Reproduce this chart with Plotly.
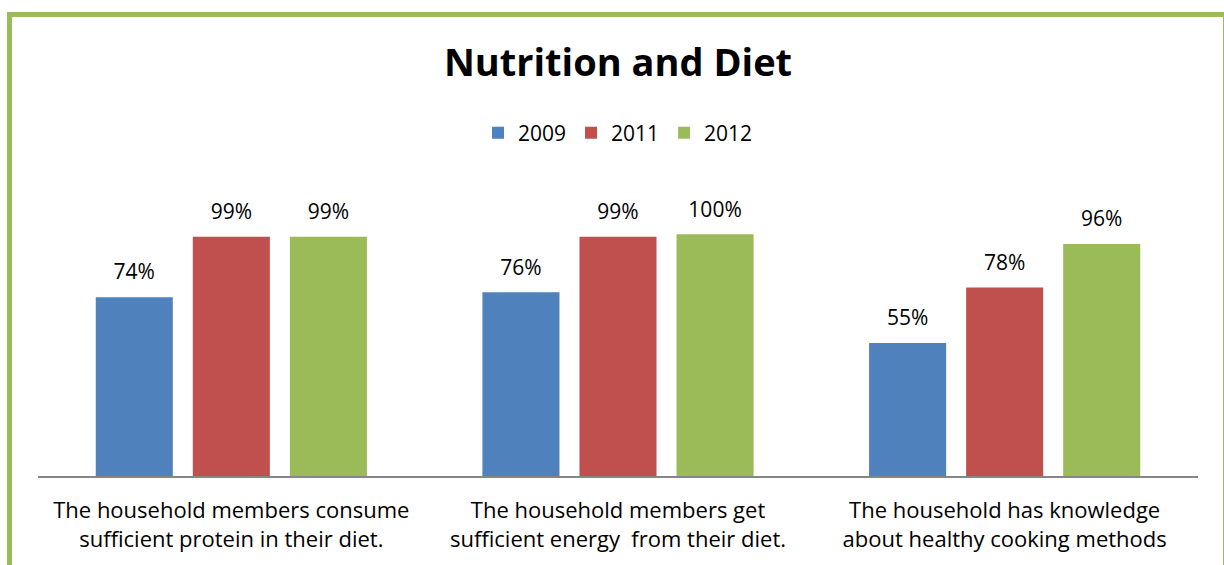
import plotly.graph_objects as go

categories = [
    "The household members consume<br>sufficient protein in their diet.",
    "The household members get<br>sufficient energy  from their diet.",
    "The household has knowledge<br>about healthy cooking methods",
]
years = ["2009", "2011", "2012"]
values_2009 = [0.74, 0.76, 0.55]
values_2011 = [0.99, 0.99, 0.78]
values_2012 = [0.99, 1.00, 0.96]
colors = ["#4F81BD", "#C0504D", "#9BBB59"]

FONT = "Open Sans"
fig = go.Figure()
for name, vals, col in zip(years, [values_2009, values_2011, values_2012], colors):
    fig.add_trace(go.Bar(
        x=categories, y=vals, name=name,
        marker=dict(color=col, line=dict(width=0)),
        texttemplate="<span style='font-size:21px'>%{y:.0%}</span><br><span style='color:rgba(0,0,0,0)'>.</span>",
        textposition="outside",
        textfont=dict(family=FONT, size=9, color="#000000"),
        cliponaxis=False,
    ))

W, H = 1224, 565
L, R, T, B = 38, 26, 186, 89
pw, ph = W - L - R, H - T - B

def px_x(px):
    return (px - L) / pw

def px_y(py):
    return (H - B - py) / ph

fig.update_layout(
    width=W, height=H,
    margin=dict(l=L, r=R, t=T, b=B, autoexpand=False),
    paper_bgcolor="white", plot_bgcolor="white",
    barmode="group", bargap=0.247, bargroupgap=0.206,
    font=dict(family=FONT, size=21, color="#000000"),
    title=dict(text="<b>Nutrition and Diet</b>", x=0.5, xanchor="center",
               xref="paper", y=1 - 63 / H, yanchor="middle", yref="container",
               font=dict(family=FONT, size=38, color="#000000")),
    legend=dict(orientation="h", x=0.5, xanchor="center", y=px_y(133), yanchor="middle",
                font=dict(family=FONT, size=21, color="#000000"),
                itemwidth=30, traceorder="normal"),
    xaxis=dict(showline=True, linecolor="#868686", linewidth=1.5,
               ticks="outside", ticklen=14, tickcolor="rgba(0,0,0,0)",
               tickfont=dict(family=FONT, size=22, color="#000000"), fixedrange=True),
    yaxis=dict(range=[0, 1.2], visible=False, showgrid=False, zeroline=False),
    shapes=[dict(type="rect", xref="paper", yref="paper",
                 x0=px_x(9.5), x1=px_x(1225.5), y0=px_y(14.5), y1=px_y(600),
                 line=dict(color="#9BBB59", width=5), fillcolor="rgba(0,0,0,0)", layer="below")],
)

fig.write_html("out.html")
